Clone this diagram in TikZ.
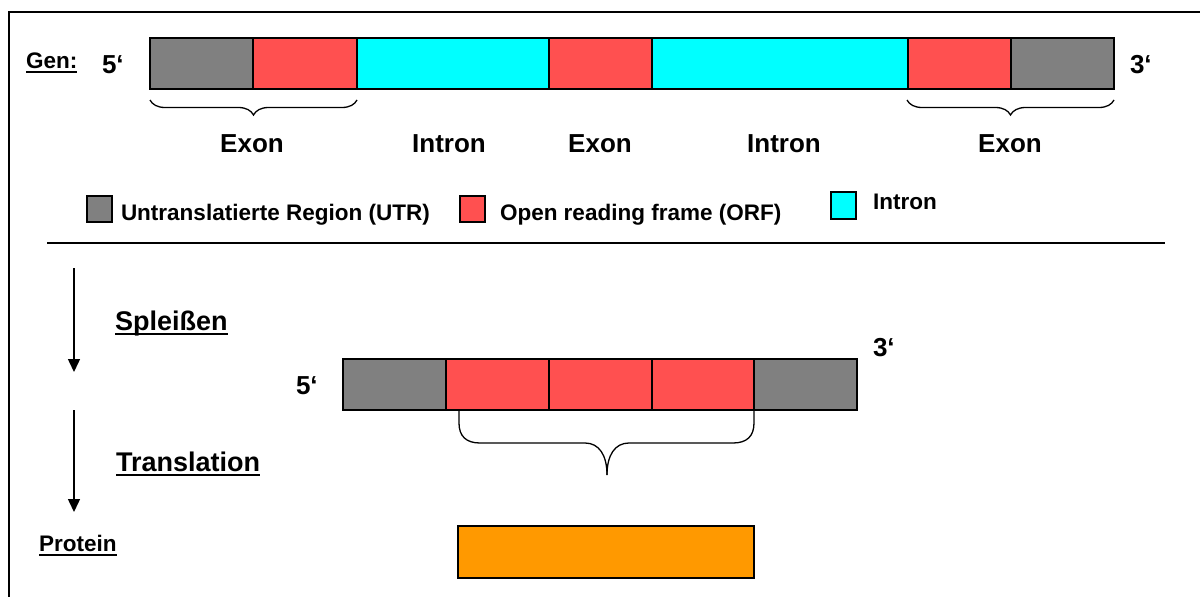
\documentclass[tikz,border=0pt]{standalone}
\usepackage{fontspec}
\setmainfont{Liberation Sans}
\usetikzlibrary{decorations.pathreplacing,arrows.meta}
\definecolor{utr}{HTML}{808080}
\definecolor{orf}{HTML}{FF5050}
\definecolor{intr}{HTML}{00FFFF}
\definecolor{prot}{HTML}{FF9900}
% underlined word with a rule just below the baseline
\newcommand\ulword[2][3pt]{\setbox0\hbox{#2}\rlap{\vrule height -#1 depth \dimexpr#1+2pt\relax width\wd0}\box0}
\begin{document}
\begin{tikzpicture}[x=1pt,y=-1pt,line join=miter,
  seg/.style={draw=black,line width=1.5pt,inner sep=0pt,outer sep=0pt,anchor=north west,minimum height=51pt},
  key/.style={draw=black,line width=1.5pt,inner sep=0pt,outer sep=0pt,anchor=north west,minimum width=25pt,minimum height=26pt},
  txt/.style={inner sep=0pt,outer sep=0pt,anchor=base west},
  big/.style={txt,font=\fontsize{26pt}{30pt}\selectfont\bfseries},
  mid/.style={txt,font=\fontsize{22.5pt}{27pt}\selectfont\bfseries},
  head/.style={txt,font=\fontsize{27pt}{32pt}\selectfont\bfseries},
  bracestyle/.style={line width=1.3pt},
  flow/.style={line width=1.5pt,-{Triangle[width=12pt,length=13pt]}}]
\useasboundingbox (0,0) rectangle (1200,597);

% frame and separator
\draw[line width=1.6pt] (9,597) -- (9,12) -- (1200,12);
\draw[line width=2pt] (47,243) -- (1165,243);

% gene
\node[mid] (gen) at (26,68) {\ulword{Gen:}};
\node[big] (g5) at (102,73) {5‘};
\node[big] (g3) at (1130,73) {3‘};
\node[seg,fill=utr,minimum width=103pt] (g1) at (150,38) {};
\node[seg,fill=orf,minimum width=104pt] (r1) at (253,38) {};
\node[seg,fill=intr,minimum width=192pt] (c1) at (357,38) {};
\node[seg,fill=orf,minimum width=103pt] (r2) at (549,38) {};
\node[seg,fill=intr,minimum width=256pt] (c2) at (652,38) {};
\node[seg,fill=orf,minimum width=103pt] (r3) at (908,38) {};
\node[seg,fill=utr,minimum width=103pt] (g2) at (1011,38) {};

% exon braces
\draw[bracestyle,decorate,decoration={brace,mirror,amplitude=15pt}] (150,100) -- (357,100);
\draw[bracestyle,decorate,decoration={brace,mirror,amplitude=15pt}] (907,100) -- (1114,100);

% labels of the parts
\node[big,anchor=base] (e1) at (252,152) {Exon};
\node[big,anchor=base] (i1) at (449,152) {Intron};
\node[big,anchor=base] (e2) at (600,152) {Exon};
\node[big,anchor=base] (i2) at (784,152) {Intron};
\node[big,anchor=base] (e3) at (1010,152) {Exon};

% legend
\node[key,fill=utr] (kutr) at (87,196) {};
\node[mid] (lutr) at (121,220) {Untranslatierte Region (UTR)};
\node[key,fill=orf] (korf) at (460,196) {};
\node[mid] (lorf) at (500,220) {Open reading frame (ORF)};
\node[key,fill=intr,minimum height=27pt] (kint) at (831,192) {};
\node[mid] (lint) at (873,209) {Intron};

% splicing step
\coordinate (a1s) at (74,268);
\coordinate (a1e) at (74,372);
\draw[flow] (a1s) -- (a1e);
\node[head] (spl) at (115,330) {\ulword{Spleißen}};

% mature mRNA
\node[big] (m5) at (296,394) {5‘};
\node[big] (m3) at (873,356) {3‘};
\node[seg,fill=utr,minimum width=103pt] (mg1) at (343,359) {};
\node[seg,fill=orf,minimum width=103pt] (mr1) at (446,359) {};
\node[seg,fill=orf,minimum width=103pt] (mr2) at (549,359) {};
\node[seg,fill=orf,minimum width=102pt] (mr3) at (652,359) {};
\node[seg,fill=utr,minimum width=103pt] (mg2) at (754,359) {};

% brace over the reading frame
\coordinate (bl) at (459,410);
\coordinate (br) at (754,410);
\coordinate (bt) at (607,475);
\draw[bracestyle] (bl) -- (459,423) .. controls (459,436) and (466,443) .. (480,443)
  -- (585,443) .. controls (599,443) and (607,455) .. (bt);
\draw[bracestyle] (br) -- (754,423) .. controls (754,436) and (747,443) .. (733,443)
  -- (629,443) .. controls (615,443) and (607,455) .. (bt);

% translation step
\coordinate (a2s) at (74,410);
\coordinate (a2e) at (74,512);
\draw[flow] (a2s) -- (a2e);
\node[head] (trl) at (116,471) {\ulword{Translation}};

% protein
\node[mid] (prl) at (39,551) {\ulword[2.5pt]{Protein}};
\node[seg,fill=prot,minimum width=296pt,minimum height=52pt] (pr) at (458,526) {};
\end{tikzpicture}
\end{document}
